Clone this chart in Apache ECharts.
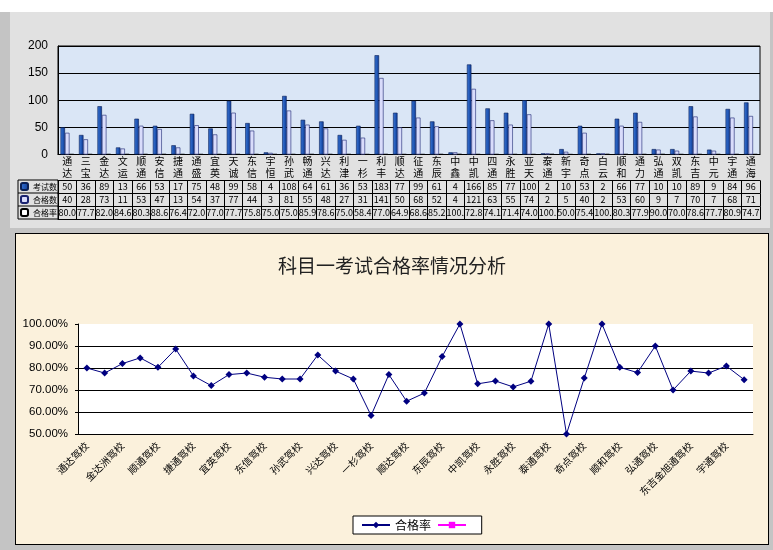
<!DOCTYPE html>
<html>
<head>
<meta charset="utf-8">
<script src="https://cdn.jsdelivr.net/npm/echarts@6/dist/echarts.min.js"></script>
<style>
    html, body {margin: 0; padding: 0; background: #c4c4c4; width: 773px; height: 550px; overflow: hidden;}
    #strip {position: absolute; left: 0; top: 0; width: 773px; height: 12px; background: #fff;}
    #top {position: absolute; left: 10px; top: 12px; width: 760px; height: 216px; background: #e1e1e1;}
    #bottom {position: absolute; left: 15px; top: 233px; width: 752px; height: 310px; background: #fbf1dc; border: 1px solid #000;}
</style>
</head>
<body>
<div id="strip"></div>
<div id="top"></div>
<div id="bottom"></div>
<script>
    // 驾校名称
    var schools = ['通达驾校', '三宝驾校', '金达洲驾校', '文运驾校', '顺通驾校', '安信驾校', '捷通驾校', '通盛驾校',
        '宜英驾校', '天诚驾校', '东信驾校', '宇恒驾校', '孙武驾校', '畅通驾校', '兴达驾校', '利津驾校', '一杉驾校',
        '利丰驾校', '顺达驾校', '征通驾校', '东辰驾校', '中鑫驾校', '中凯驾校', '四通驾校', '永胜驾校', '亚天驾校',
        '泰通驾校', '新宇驾校', '奇点驾校', '白云驾校', '顺和驾校', '通力驾校', '弘通驾校', '双凯驾校',
        '东吉金旭通驾校', '中元驾校', '宇通驾校', '通海驾校'];
    // 考试数
    var exams = [50, 36, 89, 13, 66, 53, 17, 75, 48, 99, 58, 4, 108, 64, 61, 36, 53, 183,
        77, 99, 61, 4, 166, 85, 77, 100, 2, 10, 53, 2, 66, 77, 10, 10, 89, 9, 84, 96];
    // 合格数
    var passed = [40, 28, 73, 11, 53, 47, 13, 54, 37, 77, 44, 3, 81, 55, 48, 27, 31, 141,
        50, 68, 52, 4, 121, 63, 55, 74, 2, 5, 40, 2, 53, 60, 9, 7, 70, 7, 68, 71];
    // 合格率 (%)
    var rates = [80.0, 77.7, 82.0, 84.6, 80.3, 88.6, 76.4, 72.0, 77.0, 77.7, 75.8, 75.0, 75.0, 85.9, 78.6, 75.0, 58.4, 77.0,
        64.9, 68.6, 85.2, 100, 72.8, 74.1, 71.4, 74.0, 100, 50.0, 75.4, 100, 80.3, 77.9, 90.0, 70.0, 78.6, 77.7, 80.9, 74.7];
    var yTicks = [0, 50, 100, 150, 200];
    var rateTicks = [50, 60, 70, 80, 90, 100];

    var cn = "'Noto Sans CJK SC', sans-serif";
    var num = "'Liberation Sans', Arial, sans-serif";

    var shortNames = schools.map(function (s) { return s.slice(0, 2).split('').join('\n'); });

    // 表格行：每一行是一根带偏移的类目轴
    var tableAxis = function (offset, height, getText) {
        return {
            type: 'category',
            gridIndex: 0,
            position: 'bottom',
            offset: offset,
            data: schools,
            axisLine: {show: true, lineStyle: {color: '#000', width: 1}},
            axisTick: {show: height > 0, interval: 0, length: height, lineStyle: {color: '#000', width: 1}},
            axisLabel: {
                show: !!getText,
                interval: 0,
                margin: 2,
                fontSize: 9,
                fontFamily: cn,
                color: '#000',
                formatter: function (v, i) { return getText ? getText(i) : ''; }
            },
            splitLine: {show: false}
        };
    };

    var topChart = echarts.init(document.getElementById('top'));
    topChart.setOption({
        animation: false,
        grid: {
            left: 48, right: 10, top: 34, bottom: 73.5,
            show: true, backgroundColor: '#dae6f6', borderColor: '#000', borderWidth: 1
        },
        legend: {
            orient: 'vertical',
            left: 10,
            top: 168,
            padding: 0,
            itemGap: 0,
            itemWidth: 7,
            itemHeight: 7,
            textStyle: {fontSize: 8, fontFamily: cn, color: '#000', lineHeight: 13},
            data: ['考试数', '合格数', '合格率']
        },
        xAxis: [
            {
                type: 'category',
                data: schools,
                axisLine: {lineStyle: {color: '#000'}},
                axisTick: {interval: 0, length: 26, lineStyle: {color: '#000'}},
                axisLabel: {
                    interval: 0, margin: 1, fontSize: 10, lineHeight: 12, fontFamily: cn, color: '#000',
                    formatter: function (v, i) { return shortNames[i]; }
                }
            },
            tableAxis(26, 13, function (i) { return String(exams[i]); }),
            tableAxis(39, 13, function (i) { return String(passed[i]); }),
            tableAxis(52, 13, function (i) { return rates[i] >= 100 ? '100.' : rates[i].toFixed(1); }),
            tableAxis(65, 0, null)
        ],
        yAxis: {
            type: 'value',
            min: yTicks[0],
            max: yTicks[yTicks.length - 1],
            interval: 50,
            axisLine: {show: true, lineStyle: {color: '#000'}},
            axisTick: {show: false},
            axisLabel: {fontSize: 12, fontFamily: num, color: '#000', margin: 10},
            splitLine: {lineStyle: {color: '#000', width: 1}}
        },
        graphic: [
            {type: 'rect', shape: {x: 8, y: 168, width: 40, height: 39}, style: {fill: 'none', stroke: '#000', lineWidth: 1}},
            {type: 'line', shape: {x1: 8, y1: 181, x2: 48, y2: 181}, style: {stroke: '#000', lineWidth: 1}},
            {type: 'line', shape: {x1: 8, y1: 194, x2: 48, y2: 194}, style: {stroke: '#000', lineWidth: 1}}
        ],
        series: [
            {
                name: '考试数', type: 'bar', data: exams, barWidth: 4.5, barGap: '0%',
                itemStyle: {
                    color: new echarts.graphic.LinearGradient(0, 0, 1, 0, [
                        {offset: 0, color: '#3a78d8'}, {offset: 1, color: '#0d3a96'}
                    ]),
                    borderColor: '#0a1f55', borderWidth: 0.6
                }
            },
            {
                name: '合格数', type: 'bar', data: passed, barWidth: 4.5, barGap: '0%',
                itemStyle: {color: '#d9dcfb', borderColor: '#1a2370', borderWidth: 0.6}
            },
            {
                name: '合格率', type: 'bar', data: rates.map(function (v) { return v / 100; }), barWidth: 4.5, barGap: '0%',
                itemStyle: {color: '#fff', borderColor: '#000', borderWidth: 0.6}
            }
        ]
    });

    var bottomChart = echarts.init(document.getElementById('bottom'));
    bottomChart.setOption({
        animation: false,
        title: {
            text: '科目一考试合格率情况分析',
            left: 'center',
            top: 17,
            textStyle: {fontSize: 19, fontWeight: 'normal', fontFamily: cn, color: '#222'}
        },
        grid: {
            left: 62, right: 15, top: 90, bottom: 110,
            show: true, backgroundColor: '#fff', borderWidth: 0
        },
        legend: {
            left: 337,
            top: 282,
            padding: [3, 8],
            backgroundColor: '#fff',
            borderColor: '#000',
            borderWidth: 1,
            itemWidth: 28,
            itemHeight: 8,
            itemGap: 6,
            textStyle: {fontSize: 12, fontFamily: cn, color: '#000'},
            data: ['合格率', ' ']
        },
        xAxis: {
            type: 'category',
            data: schools,
            axisLine: {lineStyle: {color: '#000'}},
            axisTick: {inside: true, interval: 0, length: 4, lineStyle: {color: '#000'}},
            axisLabel: {interval: 1, rotate: 45, margin: 10, fontSize: 10, fontFamily: cn, color: '#000'}
        },
        yAxis: {
            type: 'value',
            min: rateTicks[0],
            max: rateTicks[rateTicks.length - 1],
            interval: 10,
            axisLine: {show: true, lineStyle: {color: '#000'}},
            axisTick: {show: true, length: 3, lineStyle: {color: '#000'}},
            axisLabel: {
                fontSize: 11.5, fontFamily: num, color: '#000', margin: 10,
                formatter: function (v) { return v.toFixed(2) + '%'; }
            },
            splitLine: {lineStyle: {color: ['#000', '#000', '#000', '#000', '#000', 'rgba(0,0,0,0)'], width: 1.2}}
        },
        series: [
            {
                name: '合格率', type: 'line', data: rates,
                symbol: 'diamond', symbolSize: 7,
                lineStyle: {color: '#000080', width: 1},
                itemStyle: {color: '#000080'}
            },
            {
                name: ' ', type: 'line', data: [],
                symbol: 'rect', symbolSize: 6,
                lineStyle: {color: '#ff00ff', width: 1},
                itemStyle: {color: '#ff00ff'}
            }
        ]
    });
</script>
</body>
</html>
